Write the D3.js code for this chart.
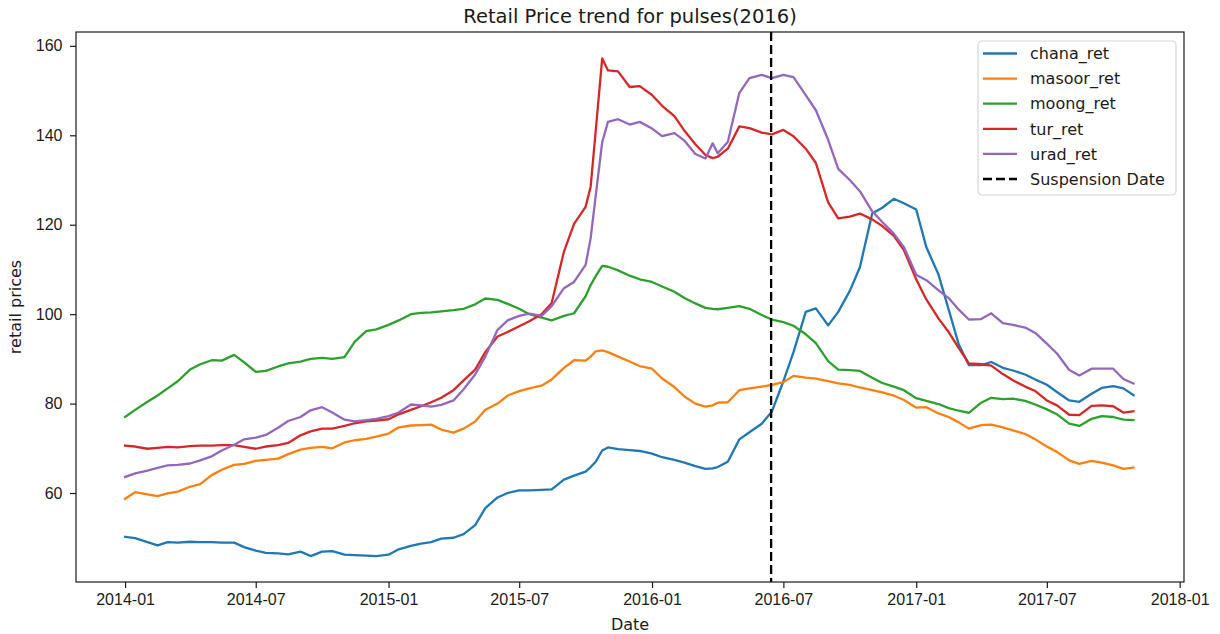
<!DOCTYPE html>
<html>
<head>
<meta charset="utf-8">
<script src="https://cdn.jsdelivr.net/npm/d3@7"></script>
<style>
  body { margin: 0; background: #fff; }
  svg { font-family: 'DejaVu Sans', sans-serif; }
</style>
</head>
<body>
<svg id="chart" width="1220" height="634"></svg>
<script>
const dates = [
  '2014-01-01','2014-01-15','2014-02-01','2014-02-15','2014-03-01','2014-03-15','2014-04-01','2014-04-15',
  '2014-05-01','2014-05-15','2014-06-01','2014-06-15','2014-07-01','2014-07-15','2014-08-01','2014-08-15',
  '2014-09-01','2014-09-15','2014-10-01','2014-10-15','2014-11-01','2014-11-15','2014-12-01','2014-12-15',
  '2015-01-01','2015-01-15','2015-02-01','2015-02-15','2015-03-01','2015-03-15','2015-04-01','2015-04-15',
  '2015-05-01','2015-05-15','2015-06-01','2015-06-15','2015-07-01','2015-07-15','2015-08-01','2015-08-15',
  '2015-09-01','2015-09-15','2015-10-01','2015-10-08','2015-10-15','2015-10-24','2015-11-01','2015-11-15',
  '2015-12-01','2015-12-15',
  '2016-01-01','2016-01-15','2016-02-01','2016-02-15','2016-03-01','2016-03-15','2016-03-25','2016-04-01','2016-04-15',
  '2016-05-01','2016-05-15','2016-06-01','2016-06-15','2016-07-01','2016-07-15','2016-08-01','2016-08-15',
  '2016-09-01','2016-09-15','2016-10-01','2016-10-15','2016-11-01','2016-11-15','2016-12-01','2016-12-15',
  '2017-01-01','2017-01-15','2017-02-01','2017-02-15','2017-03-01','2017-03-15','2017-04-01','2017-04-15',
  '2017-05-01','2017-05-15','2017-06-01','2017-06-15','2017-07-01','2017-07-15','2017-08-01','2017-08-15',
  '2017-09-01','2017-09-15','2017-10-01','2017-10-15','2017-10-29'
];

const chanaRet = [
  50.2,49.9,49.0,48.3,49.0,48.9,49.1,49.0, 49.0,48.9,48.9,47.9,47.1,46.6,46.5,46.3,
  46.9,45.9,46.9,47.0,46.2,46.1,46.0,45.9,
  46.2,47.4,48.2,48.7,49.0,49.8,50.0,50.8, 52.8,56.6,59.0,60.0,60.6,60.6,60.7,60.8,
  63.0,63.9,64.8,65.8,67.0,69.5,70.2,69.8, 69.6,69.4,
  68.8,68.0,67.4,66.8,66.0,65.4,65.5,65.8,67.0, 72.0,73.6,75.5,78.2,85.0,91.5,100.5,101.3,
  97.5,100.5,105.2,110.5,122.5,123.8,125.8,124.8,
  123.4,115.0,108.8,101.0,93.2,88.6,88.6,89.3, 88.0,87.4,86.5,85.4,84.2,82.6,80.7,80.4,
  82.2,83.5,83.9,83.4,81.9
];
const masoorRet = [
  58.7,60.2,59.7,59.3,59.9,60.3,61.4,62.0, 64.0,65.2,66.3,66.5,67.2,67.4,67.7,68.7,
  69.7,70.1,70.3,70.0,71.3,71.8,72.1,72.6,
  73.3,74.7,75.1,75.2,75.3,74.2,73.5,74.4, 76.0,78.6,80.0,81.8,82.8,83.4,84.0,85.4,
  88.0,89.7,89.6,90.5,91.7,91.9,91.5,90.5, 89.4,88.4,
  87.8,85.6,83.7,81.6,80.0,79.3,79.6,80.2,80.3, 83.0,83.4,83.8,84.2,84.8,86.2,85.8,85.6,
  85.0,84.5,84.2,83.6,83.0,82.5,81.8,80.8,
  79.1,79.2,77.8,77.0,75.8,74.4,75.2,75.3, 74.7,74.0,73.2,72.0,70.4,69.2,67.3,66.5,
  67.2,66.8,66.2,65.4,65.7
];
const moongRet = [
  77.0,78.6,80.4,81.8,83.4,85.0,87.6,88.8, 89.7,89.6,90.9,89.2,87.1,87.3,88.3,89.0,
  89.4,90.0,90.2,90.0,90.4,93.8,96.2,96.6,
  97.6,98.6,100.0,100.3,100.4,100.6,100.9,101.2, 102.2,103.5,103.2,102.3,101.2,100.0,99.2,98.6,
  99.6,100.2,104.0,106.5,108.5,110.8,110.6,109.8, 108.6,107.8,
  107.2,106.2,105.0,103.6,102.4,101.4,101.2,101.1,101.4, 101.8,101.2,99.8,98.8,98.2,97.4,95.5,93.5,
  89.5,87.6,87.5,87.3,85.8,84.6,83.8,83.0,
  81.2,80.6,79.9,79.0,78.4,77.9,80.2,81.3, 81.0,81.1,80.6,79.8,78.7,77.6,75.5,75.0,
  76.6,77.2,77.0,76.4,76.3
];
const turRet = [
  70.6,70.4,69.9,70.1,70.3,70.2,70.5,70.6, 70.6,70.7,70.7,70.3,69.9,70.4,70.7,71.2,
  72.9,73.8,74.4,74.4,75.0,75.6,76.0,76.2,
  76.5,77.6,78.6,79.4,80.3,81.3,83.0,85.2, 87.6,91.5,95.0,96.0,97.3,98.4,100.0,102.5,
  114.0,120.2,124.0,128.5,141.0,157.2,154.5,154.3, 150.8,151.0,
  149.0,146.6,144.3,141.0,138.0,135.6,134.9,135.2,137.0, 142.0,141.6,140.6,140.2,141.2,139.8,137.0,133.8,
  125.0,121.4,121.8,122.5,121.2,119.7,117.5,114.3,
  107.8,103.3,99.0,96.0,92.4,89.0,88.8,88.5, 86.6,85.2,83.8,82.8,80.7,79.6,77.5,77.4,
  79.5,79.6,79.4,78.0,78.3
];
const uradRet = [
  63.6,64.4,65.0,65.6,66.2,66.3,66.6,67.3, 68.2,69.5,70.8,72.0,72.4,73.0,74.6,76.1,
  77.0,78.5,79.2,78.0,76.4,76.0,76.3,76.6,
  77.2,78.0,79.8,79.6,79.3,79.7,80.7,83.2, 86.5,90.5,96.5,98.6,99.6,100.1,99.6,101.8,
  105.8,107.2,111.0,117.0,126.5,138.5,143.0,143.6, 142.4,143.0,
  141.5,139.8,140.5,138.8,135.8,134.8,138.2,136.0,138.5, 149.5,152.8,153.5,152.8,153.5,153.0,149.0,145.6,
  139.0,132.5,130.0,127.5,123.0,120.6,118.0,115.0,
  108.8,107.6,105.3,103.6,101.0,98.8,98.9,100.2, 98.0,97.6,97.0,95.8,93.4,91.2,87.5,86.3,
  87.8,87.8,87.8,85.5,84.5
];

const seriesNames = ['chana_ret', 'masoor_ret', 'moong_ret', 'tur_ret', 'urad_ret'];
const seriesValues = [chanaRet, masoorRet, moongRet, turRet, uradRet];
const seriesColors = ['#1f77b4', '#ff7f0e', '#2ca02c', '#d62728', '#9467bd'];
const suspensionDate = '2016-06-14';
const suspensionLabel = 'Suspension Date';
const xTickLabels = ['2014-01','2014-07','2015-01','2015-07','2016-01','2016-07','2017-01','2017-07','2018-01'];
const yTickValues = [60, 80, 100, 120, 140, 160];

// layout
const margin = {top: 32, right: 36, bottom: 52, left: 76};
const W = 1220, H = 634;
const iw = W - margin.left - margin.right;
const ih = H - margin.top - margin.bottom;
const ink = '#1a1a1a';

const parse = d3.timeParse('%Y-%m-%d');
const parseMonth = d3.timeParse('%Y-%m');
const dateObjs = dates.map(parse);

const svg = d3.select('#chart');
const g = svg.append('g').attr('transform', `translate(${margin.left},${margin.top})`);

const x = d3.scaleTime()
  .domain([new Date(2013, 9, 25), new Date(2018, 0, 7)])
  .range([0, iw]);
const y = d3.scaleLinear()
  .domain([40.1, 163.1])
  .range([ih, 0]);

// axes
const xAxis = d3.axisBottom(x)
  .tickValues(xTickLabels.map(parseMonth))
  .tickFormat(d3.timeFormat('%Y-%m'))
  .tickSize(6)
  .tickPadding(6);
const yAxis = d3.axisLeft(y)
  .tickValues(yTickValues)
  .tickSize(6)
  .tickPadding(7.5);

const xg = g.append('g').attr('transform', `translate(0,${ih})`).call(xAxis);
const yg = g.append('g').call(yAxis);
[xg, yg].forEach(a => {
  a.select('.domain').remove();
  a.selectAll('line').attr('stroke', ink).attr('stroke-width', 1.2);
  a.selectAll('text').attr('fill', ink).style('font-size', '16px');
});

// lines
const line = d3.line()
  .x((d, i) => x(dateObjs[i]))
  .y(d => y(d));

seriesValues.forEach((vals, k) => {
  g.append('path')
    .datum(vals)
    .attr('fill', 'none')
    .attr('stroke', seriesColors[k])
    .attr('stroke-width', 2.3)
    .attr('stroke-linejoin', 'round')
    .attr('stroke-linecap', 'square')
    .attr('d', line);
});

// suspension date
g.append('line')
  .attr('x1', x(parse(suspensionDate))).attr('x2', x(parse(suspensionDate)))
  .attr('y1', 0).attr('y2', ih)
  .attr('stroke', '#000')
  .attr('stroke-width', 2.3)
  .attr('stroke-dasharray', '9,4');

// frame
g.append('rect')
  .attr('width', iw).attr('height', ih)
  .attr('fill', 'none')
  .attr('stroke', ink)
  .attr('stroke-width', 1.2);

// title and labels
svg.append('text')
  .attr('x', margin.left + iw / 2).attr('y', 23)
  .attr('text-anchor', 'middle')
  .attr('fill', ink)
  .style('font-size', '19.5px')
  .text('Retail Price trend for pulses(2016)');

svg.append('text')
  .attr('x', margin.left + iw / 2).attr('y', 630)
  .attr('text-anchor', 'middle')
  .attr('fill', ink)
  .style('font-size', '16px')
  .text('Date');

svg.append('text')
  .attr('transform', `translate(20.5,${margin.top + ih / 2}) rotate(-90)`)
  .attr('text-anchor', 'middle')
  .attr('fill', ink)
  .style('font-size', '16px')
  .text('retail prices');

// legend
const legendItems = seriesNames.map((n, i) => ({name: n, color: seriesColors[i], dash: null}))
  .concat([{name: suspensionLabel, color: '#000', dash: '9,4'}]);
const lg = svg.append('g').attr('transform', 'translate(978,41)');
lg.append('rect')
  .attr('width', 198).attr('height', 154)
  .attr('rx', 4)
  .attr('fill', 'rgba(255,255,255,0.8)')
  .attr('stroke', '#d6d6d6')
  .attr('stroke-width', 1.2);
const rows = lg.selectAll('g.item').data(legendItems).enter()
  .append('g').attr('class', 'item')
  .attr('transform', (d, i) => `translate(0,${12.5 + i * 25.1})`);
rows.append('line')
  .attr('x1', 5).attr('x2', 39)
  .attr('stroke', d => d.color)
  .attr('stroke-width', 2.3)
  .attr('stroke-dasharray', d => d.dash);
rows.append('text')
  .attr('x', 52).attr('y', 0)
  .attr('dy', '0.36em')
  .attr('fill', ink)
  .style('font-size', '16px')
  .text(d => d.name);
</script>
</body>
</html>
